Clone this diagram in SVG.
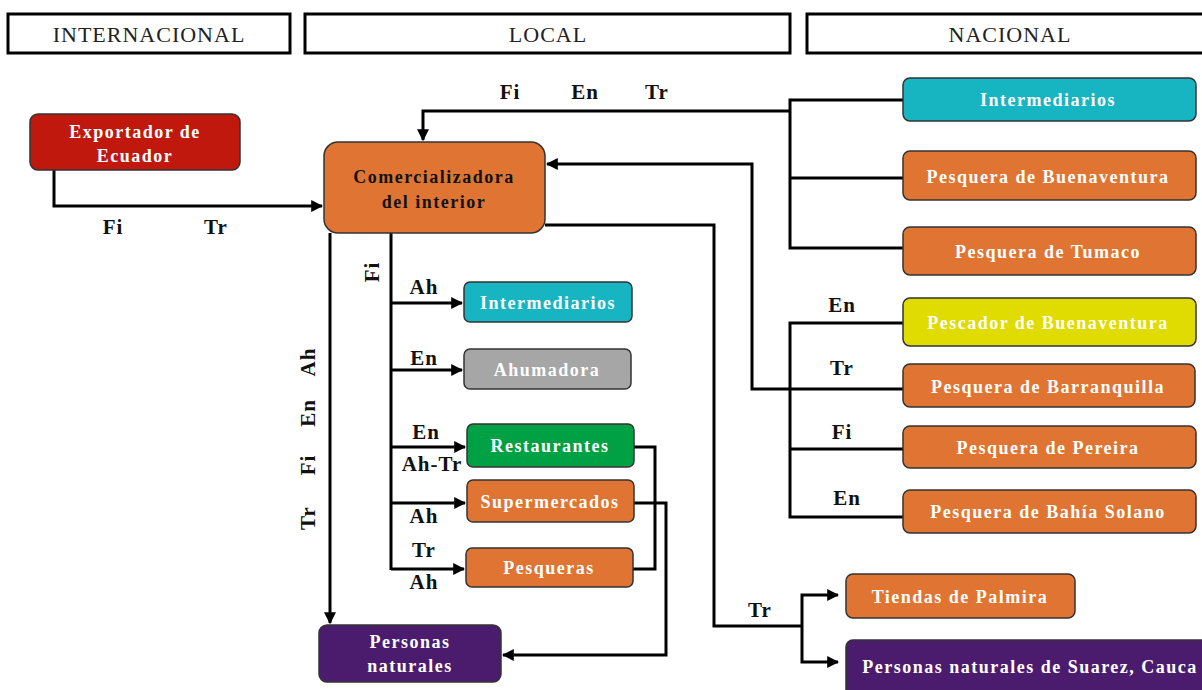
<svg xmlns="http://www.w3.org/2000/svg" width="1202" height="690" viewBox="0 0 1202 690">
<defs>
<marker id="ah" viewBox="0 0 10 10" refX="9" refY="5" markerWidth="4" markerHeight="4" orient="auto" markerUnits="strokeWidth">
<path d="M0,0 L10,5 L0,10 z" fill="#000"/>
</marker>
<style>
.hdr{fill:#fff;stroke:#000;stroke-width:3}
.ht{font-family:"Liberation Serif",serif;font-size:22px;letter-spacing:1px;fill:#222;text-anchor:middle}
.n{stroke:#333;stroke-width:1.5}
.nt{font-family:"Liberation Serif",serif;font-weight:bold;font-size:18px;letter-spacing:1.5px;fill:#fff;text-anchor:middle}
.dk{fill:#111}
.red{fill:#C0180D}.org{fill:#E07533}.teal{fill:#17B5C2}.gray{fill:#A6A6A6}.green{fill:#00A045}.yel{fill:#E0DB00}.pur{fill:#4B1C6E}
.c{fill:none;stroke:#000;stroke-width:3}
.ca{fill:none;stroke:#000;stroke-width:3;marker-end:url(#ah)}
.lb{font-family:"Liberation Serif",serif;font-weight:bold;font-size:21px;letter-spacing:1px;fill:#111;text-anchor:middle}
</style>
</defs>
<rect width="1202" height="690" fill="#fff"/>

<g id="headers">
<rect class="hdr" x="8" y="14" width="282" height="39"/>
<text class="ht" x="149" y="42">INTERNACIONAL</text>
<rect class="hdr" x="305" y="14" width="485" height="39"/>
<text class="ht" x="548" y="42">LOCAL</text>
<rect class="hdr" x="807" y="14" width="400" height="39"/>
<text class="ht" x="1010" y="42">NACIONAL</text>
</g>

<g id="connectors">
<path class="ca" d="M54 170 V206 H322"/>
<path class="c" d="M903 100 H790 V248 H903 M790 178 H903"/>
<path class="ca" d="M790 111 H423 V140"/>
<path class="ca" d="M903 389 H752 V164 H547"/>
<path class="c" d="M903 323 H790 V517 H903 M790 449 H903"/>
<path class="c" d="M545 225 H714 V626 H802"/>
<path class="ca" d="M802 626 V595 H838"/>
<path class="ca" d="M802 626 V662 H838"/>
<path class="ca" d="M330 233 V623"/>
<path class="c" d="M391 233 V570"/>
<path class="ca" d="M391 303 H462"/>
<path class="ca" d="M391 370 H462"/>
<path class="ca" d="M391 447 H465"/>
<path class="ca" d="M391 503 H465"/>
<path class="ca" d="M391 569 H464"/>
<path class="c" d="M634 447 H655 V569 H633"/>
<path class="ca" d="M634 503 H666 V655 H503"/>
</g>

<g id="labels">
<text class="lb" x="510" y="99">Fi</text>
<text class="lb" x="585" y="99">En</text>
<text class="lb" x="657" y="99">Tr</text>
<text class="lb" x="113" y="234">Fi</text>
<text class="lb" x="216" y="234">Tr</text>
<text class="lb" x="842" y="312">En</text>
<text class="lb" x="842" y="375">Tr</text>
<text class="lb" x="842" y="439">Fi</text>
<text class="lb" x="847" y="505">En</text>
<text class="lb" x="760" y="617">Tr</text>
<text class="lb" x="424" y="294">Ah</text>
<text class="lb" x="424" y="365">En</text>
<text class="lb" x="426" y="439">En</text>
<text class="lb" x="432" y="471">Ah-Tr</text>
<text class="lb" x="424" y="523">Ah</text>
<text class="lb" x="424" y="557">Tr</text>
<text class="lb" x="424" y="589">Ah</text>
<text class="lb" transform="translate(308,362) rotate(-90)" x="0" y="7">Ah</text>
<text class="lb" transform="translate(308,413) rotate(-90)" x="0" y="7">En</text>
<text class="lb" transform="translate(308,465) rotate(-90)" x="0" y="7">Fi</text>
<text class="lb" transform="translate(308,518) rotate(-90)" x="0" y="7">Tr</text>
<text class="lb" transform="translate(372,272) rotate(-90)" x="0" y="7">Fi</text>
</g>

<g id="n-exportador">
<rect class="n red" x="30" y="114" width="210" height="56" rx="8"/>
<text class="nt" x="135" y="138">Exportador de</text>
<text class="nt" x="135" y="162">Ecuador</text>
</g>
<g id="n-comercializadora">
<rect class="n org" x="324" y="142" width="221" height="91" rx="14"/>
<text class="nt dk" x="434" y="183">Comercializadora</text>
<text class="nt dk" x="434" y="208">del interior</text>
</g>
<g id="n-intermediarios-nac">
<rect class="n teal" x="903" y="78" width="293" height="43" rx="7"/>
<text class="nt" x="1048" y="106">Intermediarios</text>
</g>
<g id="n-pesq-buenaventura">
<rect class="n org" x="903" y="151" width="293" height="49" rx="7"/>
<text class="nt" x="1048" y="183">Pesquera de Buenaventura</text>
</g>
<g id="n-pesq-tumaco">
<rect class="n org" x="903" y="227" width="293" height="48" rx="7"/>
<text class="nt" x="1048" y="258">Pesquera de Tumaco</text>
</g>
<g id="n-pescador">
<rect class="n yel" x="903" y="298" width="293" height="48" rx="7"/>
<text class="nt" x="1048" y="329">Pescador de Buenaventura</text>
</g>
<g id="n-barranquilla">
<rect class="n org" x="903" y="364" width="292" height="43" rx="7"/>
<text class="nt" x="1048" y="393">Pesquera de Barranquilla</text>
</g>
<g id="n-pereira">
<rect class="n org" x="903" y="426" width="293" height="42" rx="7"/>
<text class="nt" x="1048" y="454">Pesquera de Pereira</text>
</g>
<g id="n-bahia">
<rect class="n org" x="903" y="490" width="293" height="43" rx="7"/>
<text class="nt" x="1048" y="518">Pesquera de Bahía Solano</text>
</g>
<g id="n-tiendas">
<rect class="n org" x="846" y="574" width="229" height="44" rx="7"/>
<text class="nt" x="960" y="603">Tiendas de Palmira</text>
</g>
<g id="n-suarez">
<rect class="n pur" x="846" y="640" width="370" height="60" rx="7"/>
<text class="nt" x="1030" y="673">Personas naturales de Suarez, Cauca</text>
</g>
<g id="n-intermediarios-loc">
<rect class="n teal" x="464" y="282" width="168" height="40" rx="6"/>
<text class="nt" x="548" y="309">Intermediarios</text>
</g>
<g id="n-ahumadora">
<rect class="n gray" x="464" y="349" width="167" height="40" rx="6"/>
<text class="nt" x="547" y="376">Ahumadora</text>
</g>
<g id="n-restaurantes">
<rect class="n green" x="467" y="424" width="167" height="43" rx="6"/>
<text class="nt" x="550" y="452">Restaurantes</text>
</g>
<g id="n-supermercados">
<rect class="n org" x="467" y="480" width="167" height="42" rx="6"/>
<text class="nt" x="550" y="508">Supermercados</text>
</g>
<g id="n-pesqueras">
<rect class="n org" x="466" y="548" width="167" height="39" rx="6"/>
<text class="nt" x="549" y="574">Pesqueras</text>
</g>
<g id="n-personas">
<rect class="n pur" x="319" y="625" width="182" height="57" rx="8"/>
<text class="nt" x="410" y="648">Personas</text>
<text class="nt" x="410" y="672">naturales</text>
</g>
</svg>
